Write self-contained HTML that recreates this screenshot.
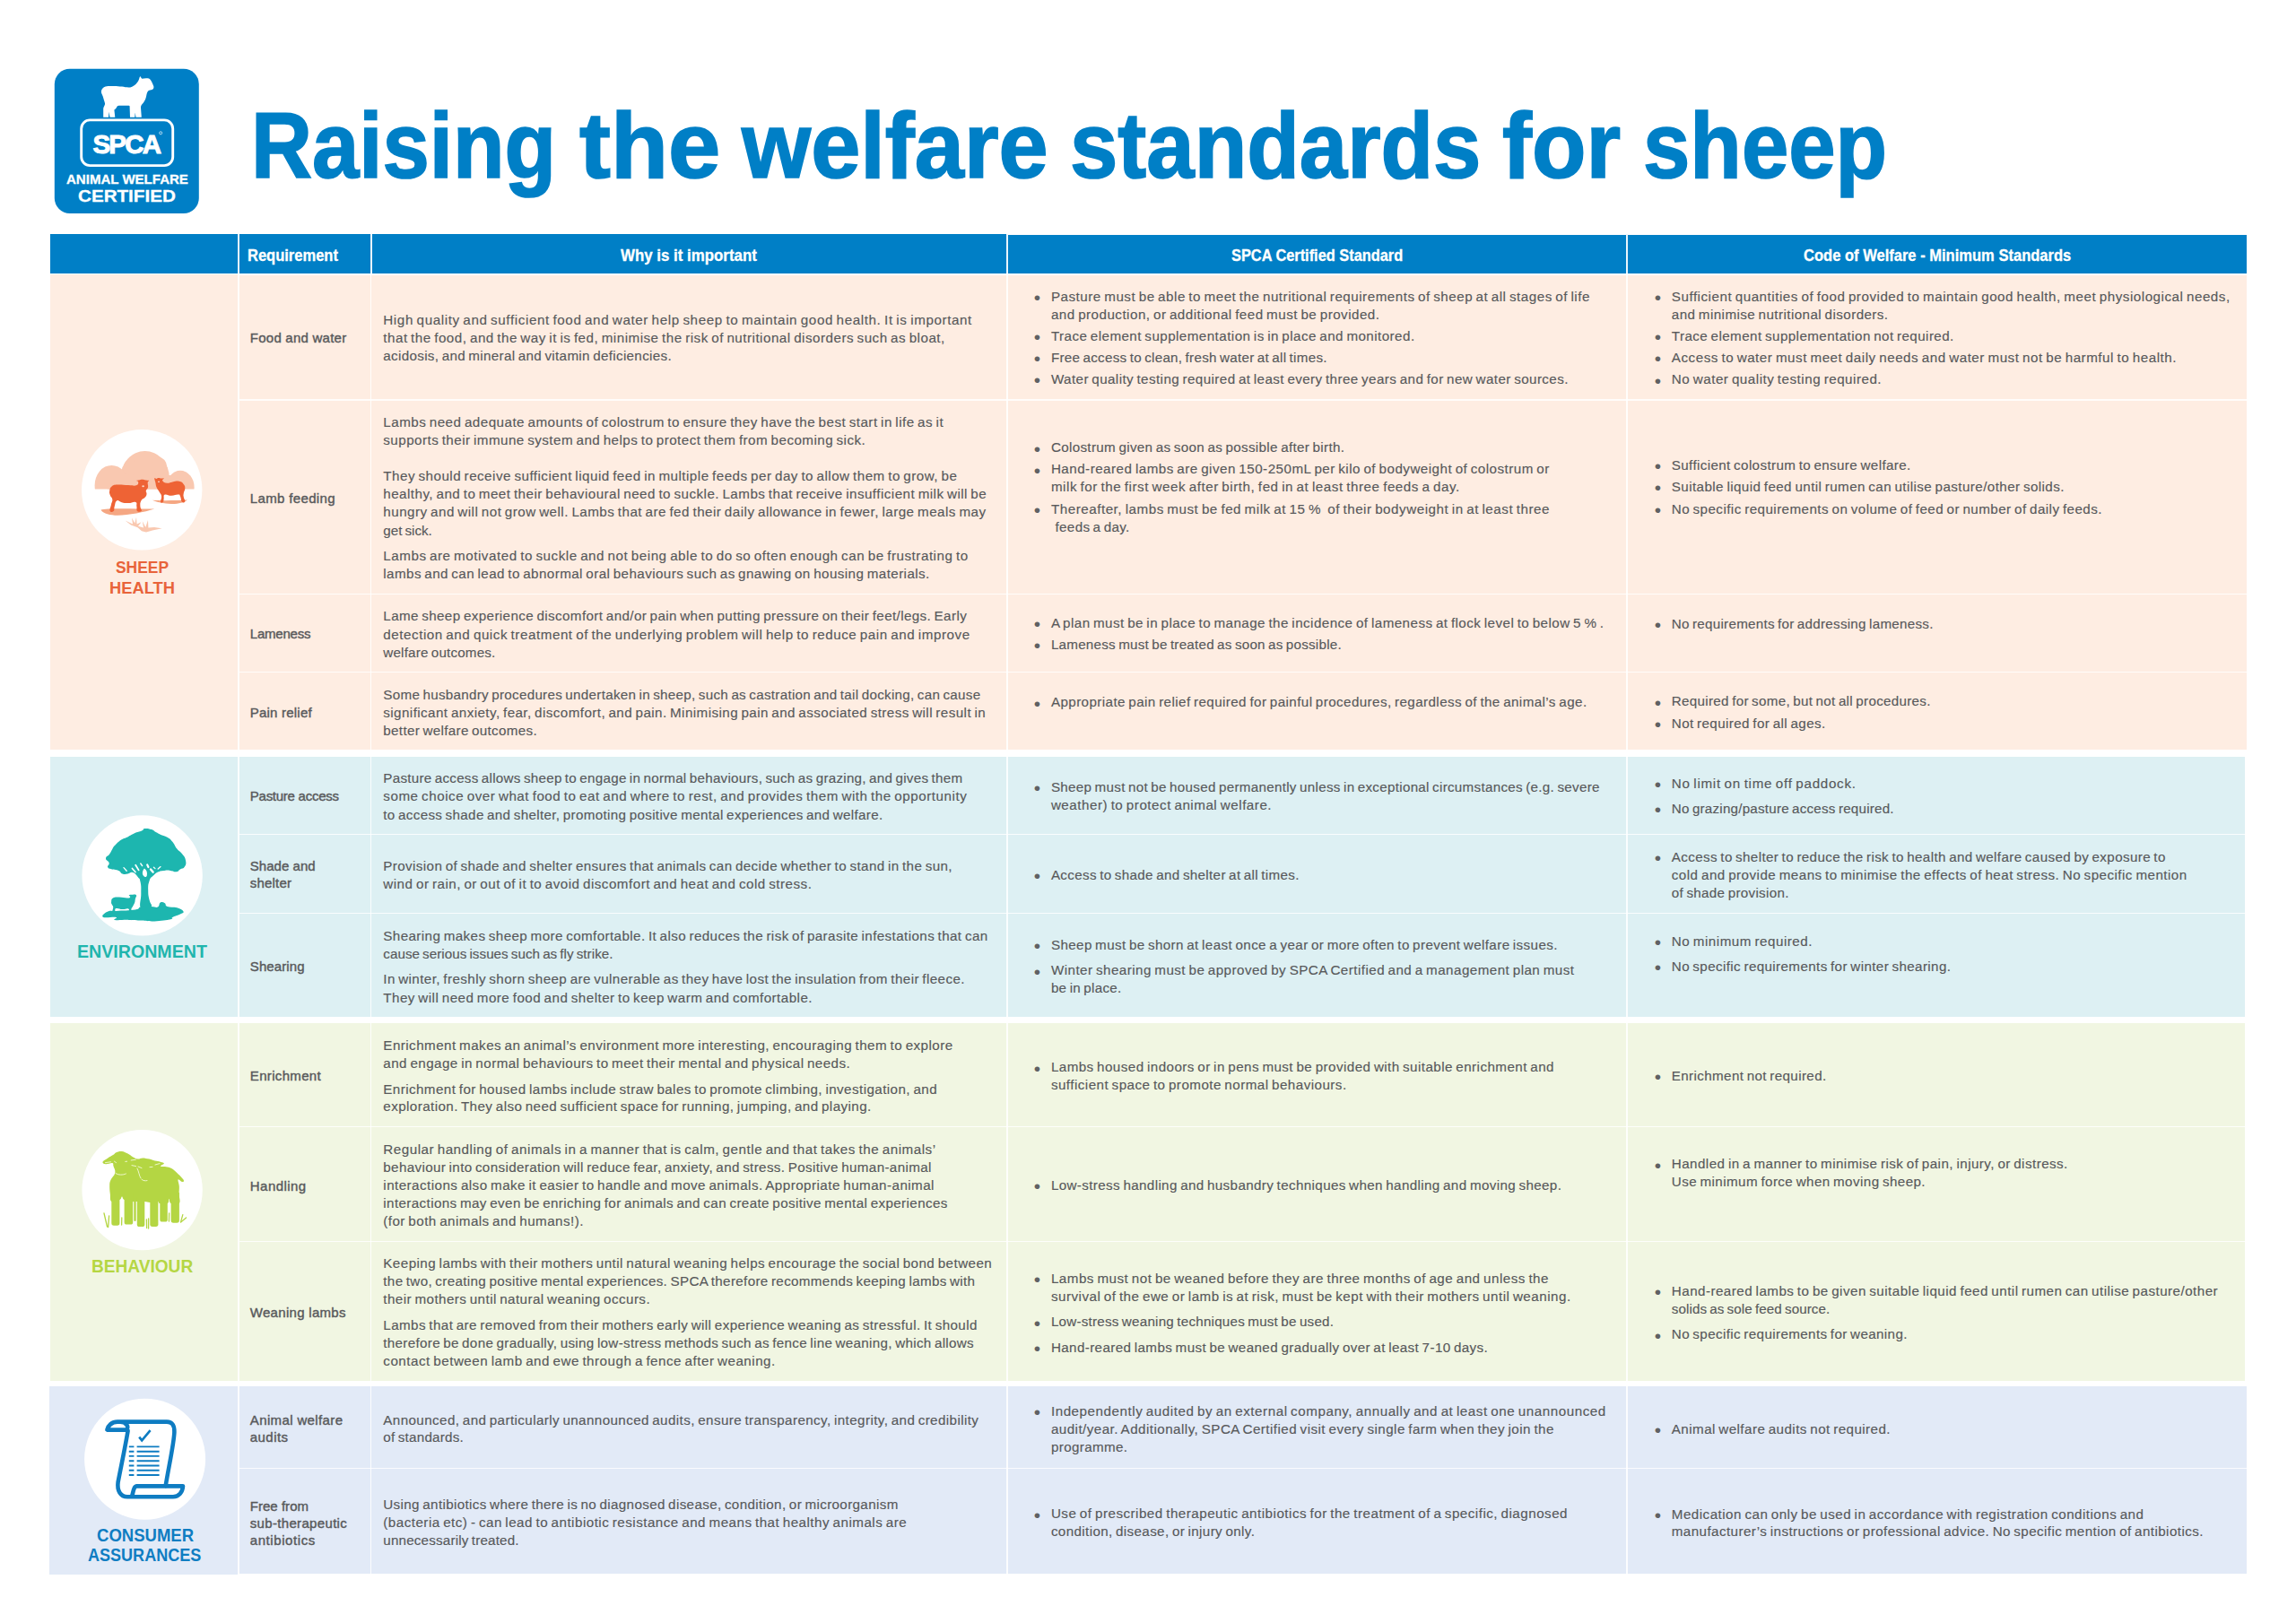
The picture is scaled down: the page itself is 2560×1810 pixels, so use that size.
<!DOCTYPE html>
<html lang="en"><head><meta charset="utf-8"><title>Raising the welfare standards for sheep</title>
<style>
html,body{margin:0;padding:0;background:#fff}
body{width:2560px;height:1810px;position:relative;overflow:hidden;font-family:"Liberation Sans", sans-serif;color:#58595b}
.r{position:absolute}
.t{position:absolute;white-space:pre;transform-origin:0 0;margin:0}
.b{font-size:15.2px;line-height:15.2px;word-spacing:-1.2px;-webkit-text-stroke:0.15px #58595b}
.l{font-size:15.0px;line-height:15.0px;-webkit-text-stroke:0.4px #58595b}
.d{font-size:21px;line-height:21px;color:#606163}
.h{font-size:18px;line-height:18px;font-weight:700;color:#fff;-webkit-text-stroke:0.3px #fff}
.s{font-size:19px;line-height:19px;font-weight:700}
.ti{font-size:104px;line-height:104px;font-weight:700;color:#007fc6;-webkit-text-stroke:1.7px #007fc6}
.lg{font-weight:700;color:#fff}
svg{position:absolute;overflow:visible}
</style></head>
<body>
<div class="r" style="left:56.0px;top:260.9px;width:209.0px;height:44.6px;background:#007fc6;"></div>
<div class="r" style="left:265.0px;top:260.9px;width:857.8px;height:43.9px;background:#007fc6;"></div>
<div class="r" style="left:1122.8px;top:261.8px;width:1382.2px;height:43.4px;background:#007fc6;"></div>
<div class="r" style="left:264.8px;top:260.9px;width:2.1px;height:44.6px;background:#eaf5fc;"></div>
<div class="r" style="left:412.5px;top:260.9px;width:2.1px;height:44.6px;background:#eaf5fc;"></div>
<div class="r" style="left:1121.8px;top:260.9px;width:2.2px;height:44.6px;background:#eaf5fc;"></div>
<div class="r" style="left:1813.0px;top:260.9px;width:2.2px;height:44.6px;background:#eaf5fc;"></div>
<div class="r" style="left:56.0px;top:305.5px;width:2449.0px;height:530.8px;background:#FEEDE2;"></div>
<div class="r" style="left:265.0px;top:305.5px;width:1.6px;height:530.8px;background:rgba(255,255,255,.86);"></div>
<div class="r" style="left:412.7px;top:305.5px;width:1.6px;height:530.8px;background:rgba(255,255,255,.86);"></div>
<div class="r" style="left:1122.0px;top:305.5px;width:1.6px;height:530.8px;background:rgba(255,255,255,.86);"></div>
<div class="r" style="left:1813.2px;top:305.5px;width:1.6px;height:530.8px;background:rgba(255,255,255,.86);"></div>
<div class="r" style="left:266.6px;top:445.3px;width:2238.4px;height:1.4px;background:rgba(255,255,255,.82);"></div>
<div class="r" style="left:266.6px;top:661.5px;width:2238.4px;height:1.4px;background:rgba(255,255,255,.82);"></div>
<div class="r" style="left:266.6px;top:748.8px;width:2238.4px;height:1.4px;background:rgba(255,255,255,.82);"></div>
<div class="r" style="left:56.0px;top:843.8px;width:2447.0px;height:290.0px;background:#DDF0F3;"></div>
<div class="r" style="left:265.0px;top:843.8px;width:1.6px;height:290.0px;background:rgba(255,255,255,.86);"></div>
<div class="r" style="left:412.7px;top:843.8px;width:1.6px;height:290.0px;background:rgba(255,255,255,.86);"></div>
<div class="r" style="left:1122.0px;top:843.8px;width:1.6px;height:290.0px;background:rgba(255,255,255,.86);"></div>
<div class="r" style="left:1813.2px;top:843.8px;width:1.6px;height:290.0px;background:rgba(255,255,255,.86);"></div>
<div class="r" style="left:266.6px;top:929.8px;width:2236.4px;height:1.4px;background:rgba(255,255,255,.82);"></div>
<div class="r" style="left:266.6px;top:1018.0px;width:2236.4px;height:1.4px;background:rgba(255,255,255,.82);"></div>
<div class="r" style="left:56.0px;top:1141.2px;width:2447.0px;height:398.8px;background:#F1F6E2;"></div>
<div class="r" style="left:265.0px;top:1141.2px;width:1.6px;height:398.8px;background:rgba(255,255,255,.86);"></div>
<div class="r" style="left:412.7px;top:1141.2px;width:1.6px;height:398.8px;background:rgba(255,255,255,.86);"></div>
<div class="r" style="left:1122.0px;top:1141.2px;width:1.6px;height:398.8px;background:rgba(255,255,255,.86);"></div>
<div class="r" style="left:1813.2px;top:1141.2px;width:1.6px;height:398.8px;background:rgba(255,255,255,.86);"></div>
<div class="r" style="left:266.6px;top:1255.7px;width:2236.4px;height:1.4px;background:rgba(255,255,255,.82);"></div>
<div class="r" style="left:266.6px;top:1383.6px;width:2236.4px;height:1.4px;background:rgba(255,255,255,.82);"></div>
<div class="r" style="left:55.0px;top:1545.9px;width:2450.0px;height:208.8px;background:#E2EAF7;"></div>
<div class="r" style="left:265.0px;top:1545.9px;width:1.6px;height:208.8px;background:rgba(255,255,255,.86);"></div>
<div class="r" style="left:412.7px;top:1545.9px;width:1.6px;height:208.8px;background:rgba(255,255,255,.86);"></div>
<div class="r" style="left:1122.0px;top:1545.9px;width:1.6px;height:208.8px;background:rgba(255,255,255,.86);"></div>
<div class="r" style="left:1813.2px;top:1545.9px;width:1.6px;height:208.8px;background:rgba(255,255,255,.86);"></div>
<div class="r" style="left:266.6px;top:1636.9px;width:2238.4px;height:1.4px;background:rgba(255,255,255,.82);"></div>
<div class="r" style="left:266.6px;top:304.8px;width:856.2px;height:2.0px;background:rgba(255,255,255,.92);"></div>
<div class="r" style="left:1122.8px;top:305.2px;width:1382.2px;height:1.6px;background:rgba(255,255,255,.92);"></div>
<div class="r" style="left:55.0px;top:1754.8px;width:210.0px;height:1.2px;background:#E2EAF7;"></div>
<svg width="2560" height="1810" viewBox="0 0 2560 1810" style="left:0;top:0" aria-hidden="true"><rect x="60.8" y="76.8" width="161" height="161.3" rx="17" ry="17" fill="#007fc6"/><path d="M156.3,84.9C157.2,86.2 157.8,87.4 158.6,87.8C160.5,87.2 163.5,86.9 166,87.5C168,88.6 169.2,91 170.2,93.6C170.9,95.2 171.6,96.4 171.4,97.6C171.3,98.9 170.8,99.6 169.6,99.9C168.2,100.3 166.6,100.3 165.4,101.2C163.6,102.8 163.4,106.5 162.6,109.3C161.8,112.2 160.2,114.4 158.6,116C157.4,117.4 157,118.6 157,120L157.8,130.8L151.5,130.8L150.7,125.6L150.3,130.8L145.0,130.8L144.6,118.6C144.6,117.9 144.2,117.6 143.4,117.7L132.6,117.8C131.2,117.8 130.6,118.6 130,119.8C129.3,121.2 128.2,121.8 127.4,122.6L128.3,130.8L122.5,130.8L121.5,124.8L121.0,130.8L115.2,130.8L115.2,121C115.4,118.6 117.4,117.2 117.0,115.2C116.4,112.4 115.4,110.4 114.8,107.8C114.2,105.6 112.6,104 112.9,101.8C113.2,99.2 115.2,97.4 117.6,96.6C120.6,95.6 124,96.0 127,95.9C130.4,95.9 133,96.2 136,96.6C139.4,97.1 142.4,97.9 145.2,97.4C148.2,96.8 150,95.4 151.8,93.6C153.6,91.6 154.6,89.8 155.2,87.8C155.5,86.6 155.7,85.6 156.3,84.9Z" fill="#fff"/><rect x="90.7" y="133.9" width="102" height="50.7" rx="9.5" ry="9.5" fill="none" stroke="#fff" stroke-width="2.9"/><circle cx="179.2" cy="148.3" r="1.5" fill="none" stroke="#fff" stroke-width="0.7"/><circle cx="158.2" cy="546.3" r="67.2" fill="#fff"/><clipPath id="bc"><rect x="100" y="495" width="120" height="50.6"/></clipPath><g clip-path="url(#bc)" fill="#f9c8b0"><ellipse cx="161.6" cy="532.5" rx="27.2" ry="29.4"/><ellipse cx="124.4" cy="541.5" rx="18.8" ry="22.6"/><ellipse cx="201" cy="543.5" rx="15.6" ry="18.8"/><ellipse cx="146" cy="521" rx="8" ry="9"/><ellipse cx="177" cy="520" rx="9" ry="10"/><rect x="120" y="530" width="85" height="20"/></g><path d="M112.6,568.6C118,566.6 150,567.6 172.3,567.6C160,571.5 140,575.5 128,574.7C120,574.3 113,571.5 112.6,568.6Z" fill="#f5a783"/><path d="M169.9,557.8C180,558.6 198,558.2 208.8,557.6C206,560.6 198,562.3 191,562.1C183,561.8 174,559.8 169.9,557.8Z" fill="#f5a783"/><path d="M122.2,547.3C122.7,544.8 122.4,544.1 124.6,542.4C126.8,540.7 126.2,540.8 130.8,540.5C135.4,540.2 137.8,540.9 143.1,541.1C148.4,541.3 149.2,542.2 152.0,541.3C154.8,540.4 154.1,538.9 154.2,537.6C154.2,536.3 152.0,536.5 152.2,536.0C152.4,535.5 153.4,535.9 155.0,535.6C156.6,535.3 156.6,534.8 158.5,534.8C160.4,534.8 160.6,535.3 162.5,535.6C164.4,535.9 165.6,535.4 166.1,536.0C166.6,536.6 165.0,536.1 164.7,538.0C164.4,539.9 165.5,541.3 165.0,543.6C164.5,545.9 163.2,545.4 162.8,547.3C162.4,549.1 163.8,549.1 163.5,551.0C163.2,552.9 163.1,552.9 161.6,554.7C160.1,556.6 158.6,555.9 157.3,558.4C156.0,560.9 156.3,561.9 156.4,564.7C156.5,567.6 158.7,568.5 157.8,569.8C157.0,571.1 154.3,571.2 153.0,569.9C151.7,568.6 152.9,567.2 152.4,564.7C151.9,562.2 153.4,560.8 151.1,559.9C148.8,559.0 146.9,561.0 143.1,561.1C139.2,561.2 138.9,560.9 135.7,560.2C132.5,559.5 132.2,557.3 130.2,558.4C128.2,559.5 128.6,561.8 127.7,564.7C126.8,567.6 128.0,568.6 126.7,569.9C125.4,571.1 123.3,571.5 122.6,569.7C121.9,567.9 123.3,565.9 124.0,562.7C124.7,559.6 125.6,559.7 125.3,557.1C125.0,554.5 123.6,554.8 122.8,552.3C122.0,549.8 121.8,549.8 122.2,547.3Z" fill="#ee6335"/><path d="M172.3,533.3C172.6,532.3 173.4,534.1 174.4,534.0C175.4,533.9 175.0,533.1 176.4,533.0C177.8,532.9 178.4,533.4 180.0,533.5C181.6,533.6 182.4,532.8 182.7,533.5C183.0,534.2 180.4,534.9 181.3,536.2C182.2,537.5 183.5,538.4 186.3,538.7C189.1,539.0 189.0,537.9 192.4,537.4C195.8,536.9 196.7,536.2 199.8,536.8C202.9,537.4 203.1,537.9 204.7,539.9C206.3,541.9 206.3,542.2 206.3,544.8C206.3,547.4 205.0,547.9 204.7,550.4C204.3,552.9 204.5,552.5 204.9,554.7C205.3,556.9 206.7,557.9 206.2,559.2C205.7,560.5 204.2,561.2 202.9,559.8C201.6,558.4 202.1,555.5 201.0,553.5C199.9,551.5 201.1,551.8 198.6,551.6C196.1,551.4 194.9,552.8 191.2,552.8C187.5,552.8 186.0,550.7 183.8,551.6C181.7,552.5 183.1,554.5 182.6,556.5C182.1,558.5 182.8,559.0 181.9,559.8C181.0,560.6 179.4,561.4 179.0,559.8C178.6,558.2 180.4,556.3 180.1,553.5C179.8,550.7 179.0,551.0 177.6,548.5C176.2,546.0 175.7,546.2 174.6,543.6C173.5,541.0 173.9,540.6 173.3,538.0C172.7,535.4 172.0,534.3 172.3,533.3Z" fill="#ee6335"/><ellipse cx="159.6" cy="542.3" rx="1.3" ry="1.0" fill="#fbd9c8"/><ellipse cx="177.0" cy="537.3" rx="1.1" ry="0.8" fill="#fbd9c8"/><path d="M139.6,580.5L148,584.5L147.0,577.6L150.3,583.6L152.0,576.8L152.6,584.6L157.5,582.2L154,586.8L160,588.6L158.8,581.2L162.3,588.0L165.0,580.0L165.4,588.6L172,588.0L180.6,589.3L170,591.6L163,593.4L158,592.2L153.5,588.2L146,585.4Z" fill="#f9c8b0"/><circle cx="158.6" cy="976.4" r="67.2" fill="#fff"/><path d="M118.0,957.3C118.2,954.6 120.3,955.2 122.3,952.3C124.3,949.4 123.8,949.2 125.5,946.5C127.2,943.8 126.1,944.9 128.7,942.3C131.3,939.7 131.8,938.9 135.2,936.6C138.6,934.3 137.8,935.6 141.6,933.7C145.4,931.8 145.1,931.3 149.5,929.4C153.9,927.5 154.8,928.0 158.0,926.6C161.2,925.2 158.7,924.5 161.6,924.1C164.5,923.7 165.5,924.1 168.8,925.1C172.1,926.1 170.9,926.5 173.8,928.0C176.7,929.5 176.1,929.4 179.5,930.9C182.9,932.4 183.2,931.6 186.6,933.7C190.0,935.8 189.4,935.3 192.3,938.7C195.2,942.1 194.4,943.0 197.3,946.6C200.2,950.2 200.5,948.9 203.1,952.3C205.7,955.7 206.3,955.7 207.0,959.5C207.7,963.3 207.5,963.9 205.9,966.6C204.3,969.3 203.4,968.0 200.9,969.5C198.4,971.0 199.5,971.9 196.6,972.3C193.7,972.7 193.8,971.3 190.2,970.9C186.6,970.5 186.7,970.5 183.1,970.9C179.5,971.3 179.9,970.8 176.6,972.3C173.3,973.8 173.6,973.9 170.9,976.6C168.2,979.3 168.1,977.9 166.6,982.3C165.1,986.7 165.2,987.3 165.2,993.0C165.2,998.7 165.6,999.0 166.6,1003.8C167.6,1008.6 169.9,1008.3 168.8,1010.9C167.7,1013.5 165.8,1013.1 162.5,1013.5C159.2,1013.9 158.0,1016.8 156.6,1012.3C155.2,1007.8 157.3,1004.2 157.3,996.6C157.3,989.0 157.6,988.8 156.6,983.8C155.6,978.8 156.0,980.9 153.7,978.0C151.4,975.1 151.0,973.9 148.0,973.0C145.0,972.1 145.3,974.1 142.3,974.5C139.3,974.9 139.3,975.5 136.6,974.5C133.9,973.5 135.3,972.2 132.3,970.9C129.3,969.6 128.4,970.5 125.2,969.5C122.0,968.5 121.2,969.2 120.2,967.3C119.2,965.4 122.2,965.0 121.6,962.3C121.0,959.6 117.8,960.0 118.0,957.3Z" fill="#1db6af"/><path d="M114.8,1022.7C112.7,1021.2 116.8,1018.2 120.2,1016.6C123.6,1015.0 122.2,1016.4 129.4,1015.9C136.6,1015.4 144.5,1015.5 150.9,1014.5C157.3,1013.5 152.8,1012.3 157.0,1011.5C161.2,1010.7 164.4,1010.9 168.8,1010.9C173.2,1010.9 173.6,1012.6 175.9,1011.6C178.2,1010.6 177.0,1007.6 178.8,1006.6C180.6,1005.6 182.0,1006.3 183.8,1007.3C185.6,1008.3 183.4,1009.7 186.6,1010.9C189.8,1012.1 193.1,1011.0 197.3,1012.3C201.5,1013.6 203.7,1014.9 204.5,1016.6C205.3,1018.3 203.7,1018.0 200.9,1019.5C198.1,1021.0 194.8,1021.7 192.3,1023.0C189.8,1024.3 194.9,1024.2 190.2,1025.2C185.5,1026.2 179.8,1027.1 172.3,1027.4C164.8,1027.7 164.7,1026.9 158.0,1026.6C151.3,1026.2 150.7,1026.1 143.7,1025.9C136.7,1025.7 131.3,1026.6 128.0,1025.9C124.7,1025.2 132.5,1023.7 129.4,1023.0C126.3,1022.3 116.9,1024.2 114.8,1022.7Z" fill="#1db6af"/><path d="M124.1,1005.9C124.4,1004.1 123.7,1002.9 125.9,1001.6C128.1,1000.3 128.9,1000.6 133.0,1000.6C137.1,1000.6 139.2,1001.7 142.3,1001.6C145.4,1001.5 144.8,1001.0 145.2,1000.2C145.5,999.4 143.0,999.0 143.7,998.4C144.4,997.8 145.9,997.7 148.0,997.7C150.1,997.7 151.3,997.2 152.0,998.4C152.7,999.5 151.4,1000.2 150.9,1002.3C150.4,1004.3 150.9,1004.5 150.2,1006.6C149.5,1008.8 148.9,1009.3 148.0,1010.9C147.1,1012.5 147.1,1011.6 146.6,1013.1C146.1,1014.6 146.8,1016.0 146.2,1017.0C145.6,1018.0 144.9,1017.9 144.1,1017.0C143.3,1016.1 144.9,1014.1 143.0,1013.4C141.1,1012.7 140.0,1014.2 136.6,1014.1C133.2,1014.0 131.6,1012.3 129.4,1013.1C127.2,1013.9 129.1,1016.3 128.0,1017.4C127.0,1018.5 125.7,1018.8 125.2,1017.4C124.8,1016.0 126.3,1013.8 126.2,1011.6C126.1,1009.5 125.3,1010.2 124.8,1008.8C124.3,1007.4 123.8,1007.7 124.1,1005.9Z" fill="#1db6af"/><g stroke="#fff" stroke-linecap="round" fill="none"><path d="M138,967.6L141.2,971.2" stroke-width="1.3"/><path d="M147.4,968.4L151,972.6" stroke-width="1.6"/><path d="M151.2,964.8L154.6,970.4" stroke-width="1.8"/><path d="M156.8,963L158.6,965.6" stroke-width="1.4"/><path d="M164.2,964.4L165.4,967" stroke-width="2.2"/><path d="M168,969.4L170.6,972.6" stroke-width="2.4"/><path d="M176.2,969L179,966.6" stroke-width="1.3"/><path d="M171.4,967.2L173,968.6" stroke-width="1.2"/></g><path d="M161,968.5C163.5,970 164.5,973 163.8,976.5C163,978.5 161.5,978.6 160,976.8C158,974.5 159,970.5 161,968.5Z" fill="#fff"/><circle cx="158.6" cy="1327.1" r="67.2" fill="#fff"/><path d="M114.5,1295.7C115.0,1294.3 117.9,1293.0 120.3,1291.4C122.7,1289.8 124.6,1288.9 126.5,1287.7C128.4,1286.5 127.8,1285.9 129.6,1285.2C131.4,1284.5 133.1,1283.7 135.7,1284.0C138.3,1284.3 140.0,1285.3 142.5,1286.5C145.0,1287.7 145.8,1289.0 148.0,1290.2C150.2,1291.4 151.4,1292.4 153.6,1292.6C155.8,1292.8 156.5,1291.4 159.1,1291.4C161.7,1291.4 163.8,1292.0 166.5,1292.6C169.2,1293.2 170.2,1293.9 172.7,1294.5C175.2,1295.1 176.9,1295.1 178.9,1295.7C180.9,1296.3 182.9,1296.6 182.9,1297.6C182.9,1298.6 178.5,1299.9 178.9,1300.6C179.3,1301.3 182.5,1300.8 185.0,1301.3C187.5,1301.8 188.7,1301.8 191.2,1303.1C193.7,1304.4 195.1,1306.0 197.3,1308.0C199.5,1310.0 200.8,1311.3 202.3,1313.0C203.8,1314.7 204.9,1315.7 205.0,1316.7C205.1,1317.7 204.2,1318.2 202.9,1317.9C201.6,1317.6 199.2,1314.4 198.6,1315.4C198.0,1316.4 199.6,1319.6 199.8,1322.8C200.0,1326.0 199.6,1327.7 199.6,1331.5C199.6,1335.3 201.7,1339.9 199.9,1342.0C198.1,1344.1 192.9,1343.0 190.6,1342.0C188.3,1341.0 189.4,1337.0 188.6,1337.0C187.8,1337.0 188.9,1341.0 186.8,1342.0C184.7,1343.0 180.2,1342.4 178.0,1342.0C175.8,1341.6 178.1,1340.2 176.0,1340.0C173.9,1339.8 170.4,1341.0 167.4,1341.0C164.4,1341.0 164.1,1340.2 161.2,1340.0C158.3,1339.8 155.4,1340.0 152.8,1340.0C150.2,1340.0 151.0,1340.4 148.2,1340.0C145.4,1339.6 141.0,1339.1 138.6,1338.0C136.2,1336.9 137.0,1334.5 136.0,1334.5C135.0,1334.5 135.7,1336.9 133.4,1338.0C131.1,1339.1 126.5,1341.3 124.4,1340.0C122.3,1338.7 123.2,1335.1 122.8,1331.5C122.4,1327.9 122.1,1325.3 122.2,1322.2C122.3,1319.1 122.2,1318.8 123.4,1316.0C124.6,1313.2 127.7,1311.1 128.3,1308.0C128.9,1304.9 127.1,1302.8 126.5,1300.6C125.9,1298.4 127.0,1297.5 125.3,1297.0C123.6,1296.5 120.1,1298.5 117.9,1298.2C115.7,1297.9 114.0,1297.1 114.5,1295.7Z" fill="#b4d643"/><path d="M124.3,1330H133.4V1364.1000000000001Q133.4,1366.7 130.8,1366.7H126.89999999999999Q124.3,1366.7 124.3,1364.1000000000001Z" fill="#b4d643"/><path d="M138.6,1330H148.2V1362.9Q148.2,1365.5 145.6,1365.5H141.2Q138.6,1365.5 138.6,1362.9Z" fill="#b4d643"/><path d="M149.3,1340H151.7V1360.8Q151.7,1362 150.5,1362H150.5Q149.3,1362 149.3,1360.8Z" fill="#b4d643"/><path d="M152.8,1335H161.3V1365.4Q161.3,1368 158.70000000000002,1368H155.4Q152.8,1368 152.8,1365.4Z" fill="#b4d643"/><path d="M167.3,1336H176.4V1365.3000000000002Q176.4,1367.9 173.8,1367.9H169.9Q167.3,1367.9 167.3,1365.3000000000002Z" fill="#b4d643"/><path d="M178.3,1336H186.8V1359.9Q186.8,1362.5 184.20000000000002,1362.5H180.9Q178.3,1362.5 178.3,1359.9Z" fill="#b4d643"/><path d="M190.6,1330H199.9V1361.1000000000001Q199.9,1363.7 197.3,1363.7H193.2Q190.6,1363.7 190.6,1361.1000000000001Z" fill="#b4d643"/><g stroke="#b4d643" stroke-width="1.3" stroke-linecap="round" fill="none"><path d="M116,1353L119.5,1368"/><path d="M121.6,1356L120.6,1368.6"/><path d="M135.8,1358L135.6,1366"/><path d="M163.4,1360L163.6,1369.5"/><path d="M165.6,1359L165.6,1370"/><path d="M188.6,1353L188.4,1362"/><path d="M203.8,1354.6L201.6,1362.6"/><path d="M207.6,1358L201.6,1363"/></g><g stroke="#f3f9d9" stroke-width="0.9" stroke-linecap="round" fill="none"><path d="M117.5,1296.6L123.5,1295.8"/><path d="M127.5,1295.2L129.5,1296.6"/><path d="M139.8,1295.4L141.6,1295.2"/><path d="M146.2,1294L151.4,1293.2"/><path d="M129,1308.5C132,1310.6 137,1310.6 140.4,1309"/><path d="M147,1299.6L151.6,1300.6"/><path d="M154,1301L158,1302.6"/><path d="M167,1301.6L170,1301.4"/><path d="M153,1303C155,1307 155,1311 157,1314"/><path d="M158,1315.4C160,1317 162,1317 164,1316.6"/><path d="M173,1299L178,1297.6"/></g><circle cx="161.6" cy="1627.2" r="67.5" fill="#fff"/><path d="M131,1585.6L186,1585.6C192,1585.6 194.6,1589.6 194.4,1597C194,1610 188,1636 184.6,1657.6M142.6,1595.6C140,1612 134,1640 131.6,1653C130.4,1662 134,1669.2 142,1669.2L193,1669.2C199.6,1669.2 203.6,1664 204,1657.4L152.6,1657.4C149,1657.4 148.6,1664 147.4,1667.6M131,1585.6C124.6,1585.6 120.4,1590 119.4,1594.6L140.6,1594.6C144.6,1592 141,1585.6 134,1585.6" fill="none" stroke="#0e7cc2" stroke-width="4.6" stroke-linejoin="round" stroke-linecap="round"/><path d="M155.2,1602.6L158.2,1606.4L167.6,1595.2" fill="none" stroke="#0e7cc2" stroke-width="2.6"/><path d="M143.8,1613.4H149.4M152.6,1613.4H177.6" stroke="#0e7cc2" stroke-width="1.9" fill="none"/><path d="M143.8,1618.7H149.4M152.6,1618.7H177.6" stroke="#0e7cc2" stroke-width="1.9" fill="none"/><path d="M143.8,1623.9H149.4M152.6,1623.9H177.6" stroke="#0e7cc2" stroke-width="1.9" fill="none"/><path d="M143.8,1629.2H149.4M152.6,1629.2H177.6" stroke="#0e7cc2" stroke-width="1.9" fill="none"/><path d="M143.8,1634.5H149.4M152.6,1634.5H177.6" stroke="#0e7cc2" stroke-width="1.9" fill="none"/><path d="M143.8,1639.8H149.4M152.6,1639.8H177.6" stroke="#0e7cc2" stroke-width="1.9" fill="none"/><path d="M143.8,1645.0H149.4M152.6,1645.0H177.6" stroke="#0e7cc2" stroke-width="1.9" fill="none"/></svg>
<div class="t b" style="left:427.3px;top:348.8px;letter-spacing:0.605px;">High quality and sufficient food and water help sheep to maintain good health. It is important</div>
<div class="t b" style="left:427.3px;top:369.1px;letter-spacing:0.491px;">that the food, and the way it is fed, minimise the risk of nutritional disorders such as bloat,</div>
<div class="t b" style="left:427.3px;top:389.3px;letter-spacing:0.327px;">acidosis, and mineral and vitamin deficiencies.</div>
<div class="t b" style="left:427.3px;top:463.3px;letter-spacing:0.473px;">Lambs need adequate amounts of colostrum to ensure they have the best start in life as it</div>
<div class="t b" style="left:427.3px;top:483.4px;letter-spacing:0.455px;">supports their immune system and helps to protect them from becoming sick.</div>
<div class="t b" style="left:427.3px;top:523.2px;letter-spacing:0.478px;">They should receive sufficient liquid feed in multiple feeds per day to allow them to grow, be</div>
<div class="t b" style="left:427.3px;top:543.3px;letter-spacing:0.461px;">healthy, and to meet their behavioural need to suckle. Lambs that receive insufficient milk will be</div>
<div class="t b" style="left:427.3px;top:563.4px;letter-spacing:0.474px;">hungry and will not grow well. Lambs that are fed their daily allowance in fewer, large meals may</div>
<div class="t b" style="left:427.3px;top:583.5px;letter-spacing:-0.002px;">get sick.</div>
<div class="t b" style="left:427.3px;top:611.7px;letter-spacing:0.522px;">Lambs are motivated to suckle and not being able to do so often enough can be frustrating to</div>
<div class="t b" style="left:427.3px;top:631.8px;letter-spacing:0.415px;">lambs and can lead to abnormal oral behaviours such as gnawing on housing materials.</div>
<div class="t b" style="left:427.3px;top:679.4px;letter-spacing:0.385px;">Lame sheep experience discomfort and/or pain when putting pressure on their feet/legs. Early</div>
<div class="t b" style="left:427.3px;top:699.5px;letter-spacing:0.541px;">detection and quick treatment of the underlying problem will help to reduce pain and improve</div>
<div class="t b" style="left:427.3px;top:719.6px;letter-spacing:0.185px;">welfare outcomes.</div>
<div class="t b" style="left:427.3px;top:766.9px;letter-spacing:0.286px;">Some husbandry procedures undertaken in sheep, such as castration and tail docking, can cause</div>
<div class="t b" style="left:427.3px;top:787.0px;letter-spacing:0.424px;">significant anxiety, fear, discomfort, and pain. Minimising pain and associated stress will result in</div>
<div class="t b" style="left:427.3px;top:807.1px;letter-spacing:0.326px;">better welfare outcomes.</div>
<div class="t b" style="left:427.3px;top:860.3px;letter-spacing:0.261px;">Pasture access allows sheep to engage in normal behaviours, such as grazing, and gives them</div>
<div class="t b" style="left:427.3px;top:880.4px;letter-spacing:0.527px;">some choice over what food to eat and where to rest, and provides them with the opportunity</div>
<div class="t b" style="left:427.3px;top:900.5px;letter-spacing:0.335px;">to access shade and shelter, promoting positive mental experiences and welfare.</div>
<div class="t b" style="left:427.3px;top:957.7px;letter-spacing:0.390px;">Provision of shade and shelter ensures that animals can decide whether to stand in the sun,</div>
<div class="t b" style="left:427.3px;top:977.8px;letter-spacing:0.483px;">wind or rain, or out of it to avoid discomfort and heat and cold stress.</div>
<div class="t b" style="left:427.3px;top:1035.6px;letter-spacing:0.397px;">Shearing makes sheep more comfortable. It also reduces the risk of parasite infestations that can</div>
<div class="t b" style="left:427.3px;top:1055.7px;letter-spacing:0.044px;">cause serious issues such as fly strike.</div>
<div class="t b" style="left:427.3px;top:1084.4px;letter-spacing:0.406px;">In winter, freshly shorn sheep are vulnerable as they have lost the insulation from their fleece.</div>
<div class="t b" style="left:427.3px;top:1104.5px;letter-spacing:0.456px;">They will need more food and shelter to keep warm and comfortable.</div>
<div class="t b" style="left:427.3px;top:1157.7px;letter-spacing:0.453px;">Enrichment makes an animal’s environment more interesting, encouraging them to explore</div>
<div class="t b" style="left:427.3px;top:1177.8px;letter-spacing:0.441px;">and engage in normal behaviours to meet their mental and physical needs.</div>
<div class="t b" style="left:427.3px;top:1206.5px;letter-spacing:0.421px;">Enrichment for housed lambs include straw bales to promote climbing, investigation, and</div>
<div class="t b" style="left:427.3px;top:1226.4px;letter-spacing:0.413px;">exploration. They also need sufficient space for running, jumping, and playing.</div>
<div class="t b" style="left:427.3px;top:1273.6px;letter-spacing:0.521px;">Regular handling of animals in a manner that is calm, gentle and that takes the animals’</div>
<div class="t b" style="left:427.3px;top:1293.7px;letter-spacing:0.359px;">behaviour into consideration will reduce fear, anxiety, and stress. Positive human-animal</div>
<div class="t b" style="left:427.3px;top:1313.8px;letter-spacing:0.454px;">interactions also make it easier to handle and move animals. Appropriate human-animal</div>
<div class="t b" style="left:427.3px;top:1333.9px;letter-spacing:0.386px;">interactions may even be enriching for animals and can create positive mental experiences</div>
<div class="t b" style="left:427.3px;top:1354.0px;letter-spacing:0.449px;">(for both animals and humans!).</div>
<div class="t b" style="left:427.3px;top:1400.9px;letter-spacing:0.446px;">Keeping lambs with their mothers until natural weaning helps encourage the social bond between</div>
<div class="t b" style="left:427.3px;top:1421.0px;letter-spacing:0.339px;">the two, creating positive mental experiences. SPCA therefore recommends keeping lambs with</div>
<div class="t b" style="left:427.3px;top:1441.1px;letter-spacing:0.428px;">their mothers until natural weaning occurs.</div>
<div class="t b" style="left:427.3px;top:1469.9px;letter-spacing:0.407px;">Lambs that are removed from their mothers early will experience weaning as stressful. It should</div>
<div class="t b" style="left:427.3px;top:1490.0px;letter-spacing:0.315px;">therefore be done gradually, using low-stress methods such as fence line weaning, which allows</div>
<div class="t b" style="left:427.3px;top:1509.9px;letter-spacing:0.500px;">contact between lamb and ewe through a fence after weaning.</div>
<div class="t b" style="left:427.3px;top:1575.6px;letter-spacing:0.400px;">Announced, and particularly unannounced audits, ensure transparency, integrity, and credibility</div>
<div class="t b" style="left:427.3px;top:1595.2px;letter-spacing:0.241px;">of standards.</div>
<div class="t b" style="left:427.3px;top:1669.9px;letter-spacing:0.356px;">Using antibiotics where there is no diagnosed disease, condition, or microorganism</div>
<div class="t b" style="left:427.3px;top:1690.0px;letter-spacing:0.477px;">(bacteria etc) - can lead to antibiotic resistance and means that healthy animals are</div>
<div class="t b" style="left:427.3px;top:1710.1px;letter-spacing:0.186px;">unnecessarily treated.</div>
<div class="t l" style="left:278.8px;top:369.1px;letter-spacing:0.244px;">Food and water</div>
<div class="t l" style="left:278.8px;top:547.5px;letter-spacing:0.354px;">Lamb feeding</div>
<div class="t l" style="left:278.8px;top:699.3px;letter-spacing:-0.217px;">Lameness</div>
<div class="t l" style="left:278.8px;top:786.7px;letter-spacing:0.210px;">Pain relief</div>
<div class="t l" style="left:278.8px;top:880.1px;letter-spacing:-0.257px;">Pasture access</div>
<div class="t l" style="left:278.8px;top:958.3px;letter-spacing:0.028px;">Shade and</div>
<div class="t l" style="left:278.8px;top:977.4px;letter-spacing:0.195px;">shelter</div>
<div class="t l" style="left:278.8px;top:1070.1px;letter-spacing:0.108px;">Shearing</div>
<div class="t l" style="left:278.8px;top:1192.0px;letter-spacing:0.336px;">Enrichment</div>
<div class="t l" style="left:278.8px;top:1314.6px;letter-spacing:0.454px;">Handling</div>
<div class="t l" style="left:278.8px;top:1456.1px;letter-spacing:0.298px;">Weaning lambs</div>
<div class="t l" style="left:278.8px;top:1576.1px;letter-spacing:0.371px;">Animal welfare</div>
<div class="t l" style="left:278.8px;top:1594.9px;letter-spacing:0.434px;">audits</div>
<div class="t l" style="left:278.8px;top:1671.5px;letter-spacing:0.023px;">Free from</div>
<div class="t l" style="left:278.8px;top:1690.7px;letter-spacing:0.328px;">sub-therapeutic</div>
<div class="t l" style="left:278.8px;top:1709.7px;letter-spacing:0.570px;">antibiotics</div>
<div class="t b" style="left:1171.9px;top:322.8px;letter-spacing:0.501px;">Pasture must be able to meet the nutritional requirements of sheep at all stages of life</div>
<div class="t d" style="left:1152.7px;top:321.2px;">•</div>
<div class="t b" style="left:1171.9px;top:342.9px;letter-spacing:0.473px;">and production, or additional feed must be provided.</div>
<div class="t b" style="left:1171.9px;top:366.9px;letter-spacing:0.439px;">Trace element supplementation is in place and monitored.</div>
<div class="t d" style="left:1152.7px;top:365.3px;">•</div>
<div class="t b" style="left:1171.9px;top:390.9px;letter-spacing:0.271px;">Free access to clean, fresh water at all times.</div>
<div class="t d" style="left:1152.7px;top:389.3px;">•</div>
<div class="t b" style="left:1171.9px;top:415.0px;letter-spacing:0.408px;">Water quality testing required at least every three years and for new water sources.</div>
<div class="t d" style="left:1152.7px;top:413.4px;">•</div>
<div class="t b" style="left:1171.9px;top:491.3px;letter-spacing:0.331px;">Colostrum given as soon as possible after birth.</div>
<div class="t d" style="left:1152.7px;top:489.7px;">•</div>
<div class="t b" style="left:1171.9px;top:515.3px;letter-spacing:0.476px;">Hand-reared lambs are given 150-250mL per kilo of bodyweight of colostrum or</div>
<div class="t d" style="left:1152.7px;top:513.7px;">•</div>
<div class="t b" style="left:1171.9px;top:535.2px;letter-spacing:0.539px;">milk for the first week after birth, fed in at least three feeds a day.</div>
<div class="t b" style="left:1171.9px;top:559.8px;letter-spacing:0.525px;">Thereafter, lambs must be fed milk at 15 %  of their bodyweight in at least three</div>
<div class="t d" style="left:1152.7px;top:558.2px;">•</div>
<div class="t b" style="left:1176.6px;top:579.5px;letter-spacing:0.307px;">feeds a day.</div>
<div class="t b" style="left:1171.9px;top:686.9px;letter-spacing:0.439px;">A plan must be in place to manage the incidence of lameness at flock level to below 5 % .</div>
<div class="t d" style="left:1152.7px;top:685.3px;">•</div>
<div class="t b" style="left:1171.9px;top:710.9px;letter-spacing:0.239px;">Lameness must be treated as soon as possible.</div>
<div class="t d" style="left:1152.7px;top:709.3px;">•</div>
<div class="t b" style="left:1171.9px;top:775.2px;letter-spacing:0.411px;">Appropriate pain relief required for painful procedures, regardless of the animal’s age.</div>
<div class="t d" style="left:1152.7px;top:773.6px;">•</div>
<div class="t b" style="left:1171.9px;top:869.9px;letter-spacing:0.292px;">Sheep must not be housed permanently unless in exceptional circumstances (e.g. severe</div>
<div class="t d" style="left:1152.7px;top:868.3px;">•</div>
<div class="t b" style="left:1171.9px;top:889.8px;letter-spacing:0.515px;">weather) to protect animal welfare.</div>
<div class="t b" style="left:1171.9px;top:967.8px;letter-spacing:0.329px;">Access to shade and shelter at all times.</div>
<div class="t d" style="left:1152.7px;top:966.2px;">•</div>
<div class="t b" style="left:1171.9px;top:1045.6px;letter-spacing:0.380px;">Sheep must be shorn at least once a year or more often to prevent welfare issues.</div>
<div class="t d" style="left:1152.7px;top:1044.0px;">•</div>
<div class="t b" style="left:1171.9px;top:1074.2px;letter-spacing:0.453px;">Winter shearing must be approved by SPCA Certified and a management plan must</div>
<div class="t d" style="left:1152.7px;top:1072.6px;">•</div>
<div class="t b" style="left:1171.9px;top:1094.0px;letter-spacing:0.274px;">be in place.</div>
<div class="t b" style="left:1171.9px;top:1182.1px;letter-spacing:0.434px;">Lambs housed indoors or in pens must be provided with suitable enrichment and</div>
<div class="t d" style="left:1152.7px;top:1180.5px;">•</div>
<div class="t b" style="left:1171.9px;top:1201.9px;letter-spacing:0.458px;">sufficient space to promote normal behaviours.</div>
<div class="t b" style="left:1171.9px;top:1313.7px;letter-spacing:0.368px;">Low-stress handling and husbandry techniques when handling and moving sheep.</div>
<div class="t d" style="left:1152.7px;top:1312.1px;">•</div>
<div class="t b" style="left:1171.9px;top:1418.0px;letter-spacing:0.488px;">Lambs must not be weaned before they are three months of age and unless the</div>
<div class="t d" style="left:1152.7px;top:1416.4px;">•</div>
<div class="t b" style="left:1171.9px;top:1437.6px;letter-spacing:0.486px;">survival of the ewe or lamb is at risk, must be kept with their mothers until weaning.</div>
<div class="t b" style="left:1171.9px;top:1466.1px;letter-spacing:0.228px;">Low-stress weaning techniques must be used.</div>
<div class="t d" style="left:1152.7px;top:1464.5px;">•</div>
<div class="t b" style="left:1171.9px;top:1494.6px;letter-spacing:0.383px;">Hand-reared lambs must be weaned gradually over at least 7-10 days.</div>
<div class="t d" style="left:1152.7px;top:1493.0px;">•</div>
<div class="t b" style="left:1171.9px;top:1565.6px;letter-spacing:0.538px;">Independently audited by an external company, annually and at least one unannounced</div>
<div class="t d" style="left:1152.7px;top:1564.0px;">•</div>
<div class="t b" style="left:1171.9px;top:1585.5px;letter-spacing:0.453px;">audit/year. Additionally, SPCA Certified visit every single farm when they join the</div>
<div class="t b" style="left:1171.9px;top:1605.5px;letter-spacing:0.369px;">programme.</div>
<div class="t b" style="left:1171.9px;top:1680.1px;letter-spacing:0.483px;">Use of prescribed therapeutic antibiotics for the treatment of a specific, diagnosed</div>
<div class="t d" style="left:1152.7px;top:1678.5px;">•</div>
<div class="t b" style="left:1171.9px;top:1699.7px;letter-spacing:0.370px;">condition, disease, or injury only.</div>
<div class="t b" style="left:1863.8px;top:322.9px;letter-spacing:0.519px;">Sufficient quantities of food provided to maintain good health, meet physiological needs,</div>
<div class="t d" style="left:1844.7px;top:321.3px;">•</div>
<div class="t b" style="left:1863.8px;top:342.7px;letter-spacing:0.425px;">and minimise nutritional disorders.</div>
<div class="t b" style="left:1863.8px;top:366.8px;letter-spacing:0.420px;">Trace element supplementation not required.</div>
<div class="t d" style="left:1844.7px;top:365.2px;">•</div>
<div class="t b" style="left:1863.8px;top:391.0px;letter-spacing:0.520px;">Access to water must meet daily needs and water must not be harmful to health.</div>
<div class="t d" style="left:1844.7px;top:389.4px;">•</div>
<div class="t b" style="left:1863.8px;top:415.1px;letter-spacing:0.502px;">No water quality testing required.</div>
<div class="t d" style="left:1844.7px;top:413.5px;">•</div>
<div class="t b" style="left:1863.8px;top:510.8px;letter-spacing:0.371px;">Sufficient colostrum to ensure welfare.</div>
<div class="t d" style="left:1844.7px;top:509.2px;">•</div>
<div class="t b" style="left:1863.8px;top:535.0px;letter-spacing:0.412px;">Suitable liquid feed until rumen can utilise pasture/other solids.</div>
<div class="t d" style="left:1844.7px;top:533.4px;">•</div>
<div class="t b" style="left:1863.8px;top:559.5px;letter-spacing:0.439px;">No specific requirements on volume of feed or number of daily feeds.</div>
<div class="t d" style="left:1844.7px;top:557.9px;">•</div>
<div class="t b" style="left:1863.8px;top:687.5px;letter-spacing:0.262px;">No requirements for addressing lameness.</div>
<div class="t d" style="left:1844.7px;top:685.9px;">•</div>
<div class="t b" style="left:1863.8px;top:774.4px;letter-spacing:0.298px;">Required for some, but not all procedures.</div>
<div class="t d" style="left:1844.7px;top:772.8px;">•</div>
<div class="t b" style="left:1863.8px;top:798.9px;letter-spacing:0.395px;">Not required for all ages.</div>
<div class="t d" style="left:1844.7px;top:797.3px;">•</div>
<div class="t b" style="left:1863.8px;top:865.9px;letter-spacing:0.706px;">No limit on time off paddock.</div>
<div class="t d" style="left:1844.7px;top:864.3px;">•</div>
<div class="t b" style="left:1863.8px;top:894.0px;letter-spacing:0.218px;">No grazing/pasture access required.</div>
<div class="t d" style="left:1844.7px;top:892.4px;">•</div>
<div class="t b" style="left:1863.8px;top:947.5px;letter-spacing:0.364px;">Access to shelter to reduce the risk to health and welfare caused by exposure to</div>
<div class="t d" style="left:1844.7px;top:945.9px;">•</div>
<div class="t b" style="left:1863.8px;top:967.8px;letter-spacing:0.461px;">cold and provide means to minimise the effects of heat stress. No specific mention</div>
<div class="t b" style="left:1863.8px;top:988.0px;letter-spacing:0.306px;">of shade provision.</div>
<div class="t b" style="left:1863.8px;top:1041.6px;letter-spacing:0.511px;">No minimum required.</div>
<div class="t d" style="left:1844.7px;top:1040.0px;">•</div>
<div class="t b" style="left:1863.8px;top:1070.0px;letter-spacing:0.379px;">No specific requirements for winter shearing.</div>
<div class="t d" style="left:1844.7px;top:1068.4px;">•</div>
<div class="t b" style="left:1863.8px;top:1191.8px;letter-spacing:0.369px;">Enrichment not required.</div>
<div class="t d" style="left:1844.7px;top:1190.2px;">•</div>
<div class="t b" style="left:1863.8px;top:1290.1px;letter-spacing:0.442px;">Handled in a manner to minimise risk of pain, injury, or distress.</div>
<div class="t d" style="left:1844.7px;top:1288.5px;">•</div>
<div class="t b" style="left:1863.8px;top:1310.4px;letter-spacing:0.413px;">Use minimum force when moving sheep.</div>
<div class="t b" style="left:1863.8px;top:1432.0px;letter-spacing:0.458px;">Hand-reared lambs to be given suitable liquid feed until rumen can utilise pasture/other</div>
<div class="t d" style="left:1844.7px;top:1430.4px;">•</div>
<div class="t b" style="left:1863.8px;top:1451.6px;letter-spacing:0.089px;">solids as sole feed source.</div>
<div class="t b" style="left:1863.8px;top:1480.1px;letter-spacing:0.372px;">No specific requirements for weaning.</div>
<div class="t d" style="left:1844.7px;top:1478.5px;">•</div>
<div class="t b" style="left:1863.8px;top:1585.9px;letter-spacing:0.434px;">Animal welfare audits not required.</div>
<div class="t d" style="left:1844.7px;top:1584.3px;">•</div>
<div class="t b" style="left:1863.8px;top:1680.5px;letter-spacing:0.468px;">Medication can only be used in accordance with registration conditions and</div>
<div class="t d" style="left:1844.7px;top:1678.9px;">•</div>
<div class="t b" style="left:1863.8px;top:1700.3px;letter-spacing:0.417px;">manufacturer’s instructions or professional advice. No specific mention of antibiotics.</div>
<div class="t h" style="left:275.77px;top:275.6px;transform:scaleX(0.9172);">Requirement</div>
<div class="t h" style="left:692.22px;top:275.6px;transform:scaleX(0.9373);">Why is it important</div>
<div class="t h" style="left:1373.05px;top:275.6px;transform:scaleX(0.9089);">SPCA Certified Standard</div>
<div class="t h" style="left:2010.82px;top:275.6px;transform:scaleX(0.9186);">Code of Welfare - Minimum Standards</div>
<div class="t s" style="left:129.13px;top:622.6px;transform:scaleX(0.9162);color:#e8633a;font-size:19px;line-height:19px;">SHEEP</div>
<div class="t s" style="left:122.46px;top:646.0px;transform:scaleX(0.9638);color:#e8633a;font-size:19px;line-height:19px;">HEALTH</div>
<div class="t s" style="left:85.77px;top:1052.0px;transform:scaleX(1.0009);color:#1fb5ad;font-size:19.6px;line-height:19.6px;">ENVIRONMENT</div>
<div class="t s" style="left:102.10px;top:1403.0px;transform:scaleX(0.9747);color:#b5d643;font-size:19.6px;line-height:19.6px;">BEHAVIOUR</div>
<div class="t s" style="left:107.55px;top:1702.8px;transform:scaleX(0.9454);color:#0f7dc2;font-size:19.6px;line-height:19.6px;">CONSUMER</div>
<div class="t s" style="left:98.28px;top:1725.1px;transform:scaleX(0.9207);color:#0f7dc2;font-size:19.6px;line-height:19.6px;">ASSURANCES</div>
<div class="t lg" style="left:103.4px;top:146.1px;letter-spacing:-1.790px;color:#fff;font-size:29.5px;line-height:29.5px;-webkit-text-stroke:1px #fff;">SPCA</div>
<div class="t lg" style="left:73.64px;top:192.0px;transform:scaleX(0.9964);color:#fff;font-size:15.1px;line-height:15.1px;-webkit-text-stroke:0.3px #fff;">ANIMAL WELFARE</div>
<div class="t lg" style="left:87.00px;top:208.7px;transform:scaleX(1.0847);color:#fff;font-size:19px;line-height:19px;-webkit-text-stroke:0.3px #fff;">CERTIFIED</div>
<h1 class="r" style="left:0;top:0;margin:0"><span class="t ti" style="left:280.16px;top:109.6px;transform:scaleX(0.9048);">Raising</span> <span class="t ti" style="left:645.87px;top:109.6px;transform:scaleX(1.0077);">the</span> <span class="t ti" style="left:826.85px;top:109.6px;transform:scaleX(0.9535);">welfare</span> <span class="t ti" style="left:1192.93px;top:109.6px;transform:scaleX(0.9223);">standards</span> <span class="t ti" style="left:1675.32px;top:109.6px;transform:scaleX(0.9521);">for</span> <span class="t ti" style="left:1832.08px;top:109.6px;transform:scaleX(0.9054);">sheep</span></h1>
</body></html>
